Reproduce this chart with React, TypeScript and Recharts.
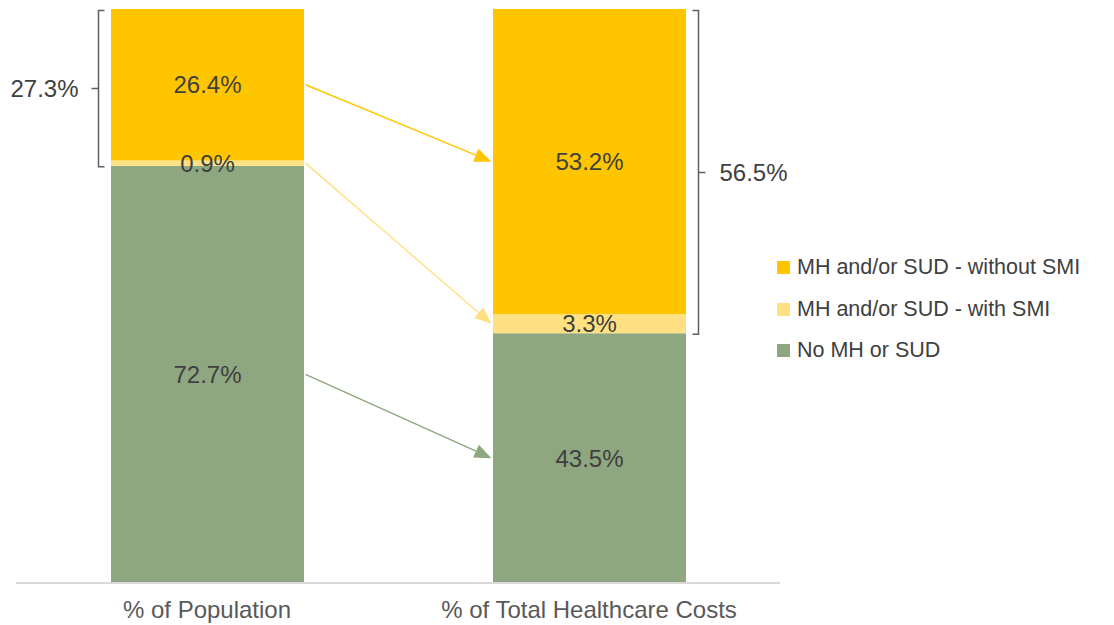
import React from 'react';
import { BarChart, Bar, XAxis, YAxis, LabelList, Legend, ReferenceLine } from 'recharts';

const categories = ['% of Population', '% of Total Healthcare Costs'];
const noMhSud = [72.7, 43.5];
const withSmi = [0.9, 3.3];
const withoutSmi = [26.4, 53.2];

const seriesKeys = ['noMh', 'withSmi', 'withoutSmi'];
const seriesNames = ['No MH or SUD', 'MH and/or SUD - with SMI', 'MH and/or SUD - without SMI'];
const seriesColors = ['#8EA780', '#FFE083', '#FFC600'];
const legendOrder = ['withoutSmi', 'withSmi', 'noMh'];

const FONT = '"Liberation Sans", Arial, sans-serif';
const BAR_SIZE = 193;
const TEXT = '#404040';
const BRACKET = '#5A6068';

const data = categories.map((name, i) => ({
  name,
  noMh: noMhSud[i],
  withSmi: withSmi[i],
  withoutSmi: withoutSmi[i],
}));

const seriesValues = [noMhSud, withSmi, withoutSmi];
const centerOf = (s: number, i: number) => {
  let base = 0;
  for (let k = 0; k < s; k++) base += seriesValues[k][i];
  return base + seriesValues[s][i] / 2;
};

const fmt = (v: any) => `${Number(v).toFixed(1)}%`;

const makeArrow = (color: string) => (props: any) => {
  const { x1, y1, x2, y2 } = props;
  const sx = x1 + BAR_SIZE / 2 + 2;
  const ex = x2 - BAR_SIZE / 2 - 1;
  const ang = Math.atan2(y2 - y1, ex - sx);
  const L = 17;
  const W = 7;
  const c = Math.cos(ang);
  const s = Math.sin(ang);
  const bx = ex - L * c;
  const by = y2 - L * s;
  return (
    <g>
      <line x1={sx} y1={y1} x2={bx} y2={by} stroke={color} strokeWidth={1.4} />
      <polygon
        points={`${ex},${y2} ${bx - W * s},${by + W * c} ${bx + W * s},${by - W * c}`}
        fill={color}
      />
    </g>
  );
};

const makeBracket = (side: 'left' | 'right', label: string) => (props: any) => {
  const { x1, y1, y2 } = props;
  const top = Math.min(y1, y2) + 1.5;
  const bot = Math.max(y1, y2) + 1;
  const mid = (top + bot) / 2;
  const x = side === 'left' ? x1 - BAR_SIZE / 2 - 12 : x1 + BAR_SIZE / 2 + 13;
  const inward = side === 'left' ? 6 : -6;
  const outward = side === 'left' ? -7 : 7;
  const tx = side === 'left' ? x + outward - 13 : x + outward + 14;
  return (
    <g>
      <path
        d={`M${x + inward},${top} L${x},${top} L${x},${bot} L${x + inward},${bot} M${x},${mid} L${x + outward},${mid}`}
        fill="none"
        stroke={BRACKET}
        strokeWidth={1.5}
      />
      <text
        x={tx}
        y={mid}
        textAnchor={side === 'left' ? 'end' : 'start'}
        dominantBaseline="central"
        fontSize={24}
        fontFamily={FONT}
        fill={TEXT}
      >
        {label}
      </text>
    </g>
  );
};

const renderLegend = () => (
  <div style={{ fontFamily: FONT, fontSize: 21.5, color: TEXT }}>
    {legendOrder.map((key) => {
      const idx = seriesKeys.indexOf(key);
      return (
        <div key={key} style={{ display: 'flex', alignItems: 'center', height: 41.5, whiteSpace: 'nowrap' }}>
          <span style={{ display: 'inline-block', width: 13, height: 13, background: seriesColors[idx], marginRight: 7 }} />
          <span>{seriesNames[idx]}</span>
        </div>
      );
    })}
  </div>
);

const leftTotal = withSmi[0] + withoutSmi[0];
const rightTotal = withSmi[1] + withoutSmi[1];

export default function App() {
  return (
    <div style={{ fontFamily: FONT }}>
      <BarChart
        width={1098}
        height={617}
        data={data}
        margin={{ top: 1, right: 326, bottom: 0, left: 8 }}
        barSize={BAR_SIZE}
      >
        <XAxis
          dataKey="name"
          height={42}
          axisLine={{ stroke: '#D9D9D9', strokeWidth: 2 }}
          tickLine={false}
          tickMargin={12}
          tick={{ fontSize: 24, fill: '#595959', fontFamily: FONT }}
          interval={0}
        />
        <YAxis hide domain={[0, 100]} allowDataOverflow />
        {seriesKeys.map((key, i) => (
          <ReferenceLine
            key={`arrow-${key}`}
            ifOverflow="visible"
            segment={[
              { x: categories[0], y: centerOf(i, 0) },
              { x: categories[1], y: centerOf(i, 1) },
            ]}
            shape={makeArrow(seriesColors[i])}
          />
        ))}
        <ReferenceLine
          ifOverflow="visible"
          segment={[
            { x: categories[0], y: 100 },
            { x: categories[0], y: noMhSud[0] },
          ]}
          shape={makeBracket('left', fmt(leftTotal))}
        />
        <ReferenceLine
          ifOverflow="visible"
          segment={[
            { x: categories[1], y: 100 },
            { x: categories[1], y: noMhSud[1] },
          ]}
          shape={makeBracket('right', fmt(rightTotal))}
        />
        {seriesKeys.map((key, i) => (
          <Bar
            key={key}
            dataKey={key}
            name={seriesNames[i]}
            stackId="a"
            fill={seriesColors[i]}
            isAnimationActive={false}
          >
            <LabelList
              dataKey={key}
              position="center"
              formatter={fmt}
              fill={TEXT}
              fontSize={24}
              fontFamily={FONT}
            />
          </Bar>
        ))}
        <Legend
          layout="vertical"
          align="center"
          verticalAlign="middle"
          wrapperStyle={{ left: 769, top: 239, right: 'auto', bottom: 'auto', width: 329 }}
          content={renderLegend}
        />
      </BarChart>
    </div>
  );
}
